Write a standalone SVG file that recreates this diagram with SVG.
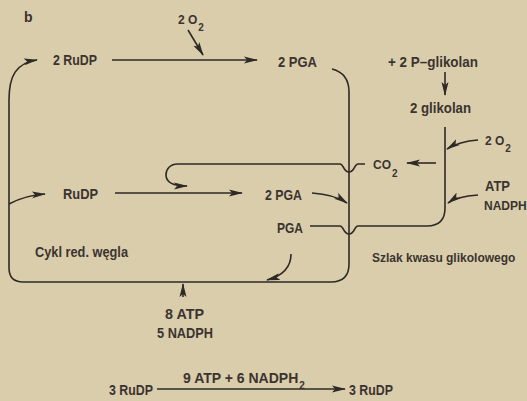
<svg xmlns="http://www.w3.org/2000/svg" width="527" height="401" viewBox="0 0 527 401">
<defs>
<marker id="ah" viewBox="0 0 14 8" refX="13" refY="4" markerWidth="14" markerHeight="8" markerUnits="userSpaceOnUse" orient="auto">
<path d="M0,0.5 L14,4 L0,7.5 L3,4 Z" fill="#2e2a26"/>
</marker>
</defs>
<style>
text{font-family:"Liberation Sans","DejaVu Sans",sans-serif;font-size:14px;font-weight:bold;fill:#3a3430}
text.m{font-size:12px}
tspan.s{font-size:10px}
.c{fill:none;stroke:#2e2a26;stroke-width:1.6}
.a{marker-end:url(#ah)}
</style>
<rect width="527" height="401" fill="#dacdab"/>
<text x="24" y="22">b</text>
<g id="connectors">
<path class="c a" d="M112,60 L257,60"/>
<path class="c a" d="M188,30 L203,55"/>
<path class="c a" d="M332,69 C344,72 349,80 349,92 L349,264 Q349,282 331,282 L23,282 Q9,282 9,268 L9,100 C9,76 16,63 37,60"/>
<path class="c a" d="M9,204 C20,198 30,195 45,194"/>
<path class="c a" d="M115,193 L242,193"/>
<path class="c a" d="M365,164 L358,164 C354,164 355,172 349,172 C343,172 344,164 340,164 L178,164 C170,164 166,169 166,175 C166,183 174,186 187,186"/>
<path class="c a" d="M312,193 C328,194 338,197 347,203"/>
<path class="c" d="M310,226 L340,226 C344,226 343,234 349,234 C355,234 354,226 358,226 L427,226 Q445,226 445,208 L445,127"/>
<path class="c a" d="M445,72 L445,95"/>
<path class="c a" d="M436,163 L407,163"/>
<path class="c a" d="M478,140 C465,141 455,144 447,149"/>
<path class="c a" d="M478,195 C465,196 455,198 448,203"/>
<path class="c a" d="M291,254 C291,268 282,276 267,280"/>
<path class="c a" d="M183,297 L183,284"/>
<path class="c a" d="M157,389 L345,389"/>
</g>
<g id="o2-top"><text class="m" x="178" y="24">2 O<tspan class="s" dx="1" dy="7">2</tspan></text></g>
<g id="rudp2"><text x="53" y="65" textLength="44" lengthAdjust="spacingAndGlyphs">2 RuDP</text></g>
<g id="pga2-top"><text x="278" y="67" textLength="39" lengthAdjust="spacingAndGlyphs">2 PGA</text></g>
<g id="pglikolan"><text x="388" y="67" textLength="90" lengthAdjust="spacingAndGlyphs">+ 2 P–glikolan</text></g>
<g id="glikolan"><text x="410" y="113" textLength="61" lengthAdjust="spacingAndGlyphs">2 glikolan</text></g>
<g id="co2"><text class="m" x="373" y="169">CO<tspan class="s" dx="1" dy="8">2</tspan></text></g>
<g id="o2-right"><text class="m" x="485" y="145">2 O<tspan class="s" dx="1" dy="7">2</tspan></text></g>
<g id="atp-right"><text x="485" y="191" textLength="25" lengthAdjust="spacingAndGlyphs">ATP</text><text class="m" x="484" y="210">NADPH</text></g>
<g id="rudp"><text x="63" y="199" textLength="35" lengthAdjust="spacingAndGlyphs">RuDP</text></g>
<g id="pga2"><text x="265" y="200" textLength="37" lengthAdjust="spacingAndGlyphs">2 PGA</text></g>
<g id="pga"><text x="277" y="233" textLength="26" lengthAdjust="spacingAndGlyphs">PGA</text></g>
<g id="cykl"><text x="35" y="257" textLength="93" lengthAdjust="spacingAndGlyphs">Cykl red. węgla</text></g>
<g id="szlak"><text class="m" x="372" y="262">Szlak kwasu glikolowego</text></g>
<g id="energy"><text x="165" y="319" textLength="39" lengthAdjust="spacingAndGlyphs">8 ATP</text><text x="157" y="338" textLength="56" lengthAdjust="spacingAndGlyphs">5 NADPH</text></g>
<g id="equation">
<text x="109" y="395" textLength="44" lengthAdjust="spacingAndGlyphs">3 RuDP</text>
<text x="183" y="383">9 ATP + 6 NADPH<tspan class="s" dx="1" dy="6">2</tspan></text>
<text x="349" y="395" textLength="44" lengthAdjust="spacingAndGlyphs">3 RuDP</text>
</g>
</svg>
